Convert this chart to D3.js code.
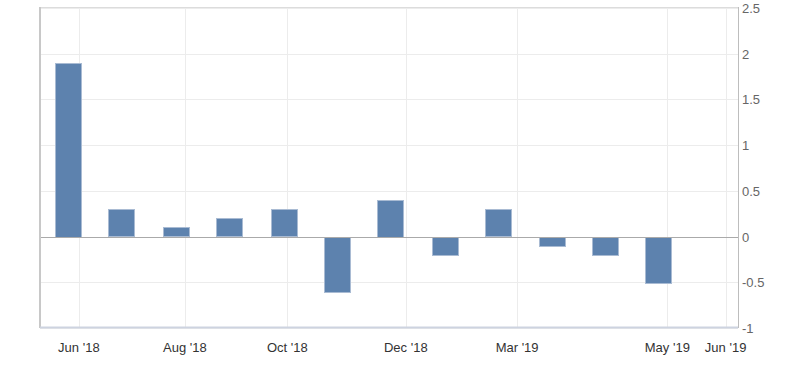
<!DOCTYPE html>
<html>
<head>
<meta charset="utf-8">
<script src="https://cdn.jsdelivr.net/npm/d3@7"></script>
<style>
  body { margin: 0; background: #fff; }
  text { font-family: "Liberation Sans", Arial, sans-serif; }
</style>
</head>
<body>
<div id="chart"></div>
<script>
// monthly change, %
const barDates = ["2018-05-26", "2018-06-25", "2018-07-26", "2018-08-25", "2018-09-25", "2018-10-25",
    "2018-11-24", "2018-12-25", "2019-01-24", "2019-02-24", "2019-03-26", "2019-04-25"];
const barValues = [1.9, 0.3, 0.1, 0.2, 0.3, -0.6, 0.4, -0.2, 0.3, -0.1, -0.2, -0.5];

const tickDates = ["2018-06-01", "2018-07-31", "2018-09-27", "2018-12-03", "2019-02-04", "2019-04-30", "2019-06-02"];
const tickLabels = ["Jun '18", "Aug '18", "Oct '18", "Dec '18", "Mar '19", "May '19", "Jun '19"];

const yTicks = [-1, -0.5, 0, 0.5, 1, 1.5, 2, 2.5];

const parse = d3.timeParse("%Y-%m-%d");
const width = 800, height = 365;
const margin = {top: 8, right: 62, bottom: 37, left: 40};

const svg = d3.select("#chart")
    .append("svg")
    .attr("width", width)
    .attr("height", height);

const x = d3.scaleTime()
    .domain([parse("2018-05-10"), parse("2019-06-09")])
    .range([margin.left, width - margin.right]);

const y = d3.scaleLinear()
    .domain([-1, 2.5])
    .range([height - margin.bottom, margin.top]);

// horizontal grid
svg.append("g")
    .selectAll("line")
    .data(yTicks)
    .join("line")
    .attr("x1", margin.left)
    .attr("x2", width - margin.right)
    .attr("y1", d => Math.round(y(d)) + 0.5)
    .attr("y2", d => Math.round(y(d)) + 0.5)
    .style("stroke", "#ececec");

// vertical grid
svg.append("g")
    .selectAll("line")
    .data(tickDates)
    .join("line")
    .attr("x1", d => Math.round(x(parse(d))) + 0.5)
    .attr("x2", d => Math.round(x(parse(d))) + 0.5)
    .attr("y1", margin.top)
    .attr("y2", height - margin.bottom)
    .style("stroke", "#ececec");

// bars
const barW = 26;
svg.append("g")
    .selectAll("rect")
    .data(barValues)
    .join("rect")
    .attr("x", (d, i) => Math.round(x(parse(barDates[i])) - barW / 2) + 0.5)
    .attr("y", d => Math.round(y(Math.max(0, d))) + 0.5)
    .attr("width", barW)
    .attr("height", d => Math.round(Math.abs(y(d) - y(0))))
    .style("fill", "#5d82ae")
    .style("stroke", "#a9bbd3")
    .style("stroke-width", 1);

// zero line
svg.append("line")
    .attr("x1", margin.left)
    .attr("x2", width - margin.right)
    .attr("y1", Math.round(y(0)) + 0.5)
    .attr("y2", Math.round(y(0)) + 0.5)
    .style("stroke", "#aaa");

// plot frame
const boxL = margin.left, boxR = width - margin.right;
const boxT = margin.top - 1, boxB = height - margin.bottom - 1;
svg.append("line").attr("x1", boxL).attr("x2", boxR).attr("y1", boxT + 0.5).attr("y2", boxT + 0.5)
    .style("stroke", "#dcdcdc");
svg.append("line").attr("x1", boxL).attr("x2", boxL).attr("y1", boxT).attr("y2", boxB + 1)
    .style("stroke", "#c8c8c8").style("stroke-width", 2);
svg.append("line").attr("x1", boxR + 0.5).attr("x2", boxR + 0.5).attr("y1", boxT).attr("y2", boxB + 1)
    .style("stroke", "#bdbdbd");
svg.append("line").attr("x1", boxL).attr("x2", boxR).attr("y1", boxB + 0.5).attr("y2", boxB + 0.5)
    .style("stroke", "#cdd3e0").style("stroke-width", 2);

// y labels (right side)
svg.append("g")
    .selectAll("text")
    .data(yTicks)
    .join("text")
    .attr("x", boxR + 4)
    .attr("y", d => y(d) + 5)
    .style("font-size", "13px")
    .style("fill", "#666")
    .text(d => d);

// x labels
svg.append("g")
    .selectAll("text")
    .data(tickDates)
    .join("text")
    .attr("x", d => x(parse(d)))
    .attr("y", 352)
    .attr("text-anchor", "middle")
    .style("font-size", "13px")
    .style("fill", "#333")
    .text((d, i) => tickLabels[i]);
</script>
</body>
</html>
